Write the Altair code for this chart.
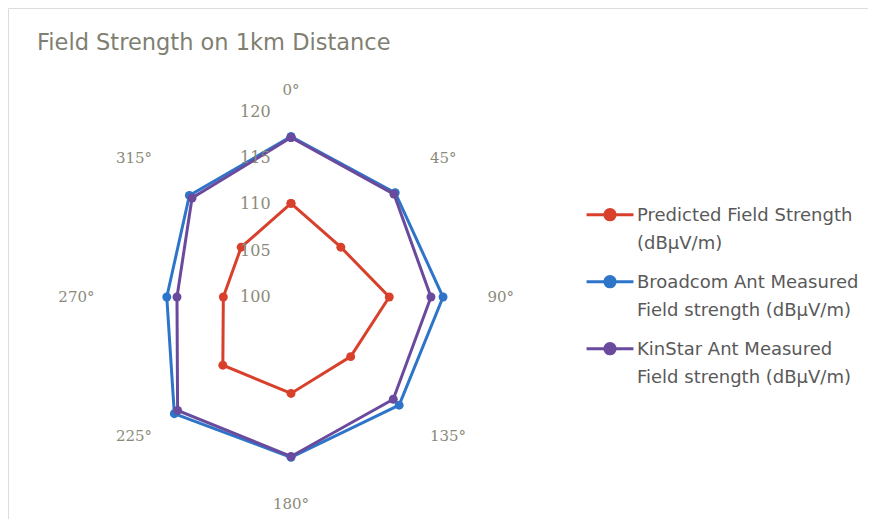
import altair as alt
import pandas as pd

ANGLES = [0, 45, 90, 135, 180, 225, 270, 315]
ANGLE_LABELS = ["0°", "45°", "90°", "135°", "180°", "225°", "270°", "315°"]
SERIES = [
    "Predicted Field Strength\n(dBµV/m)",
    "Broadcom Ant Measured\nField strength (dBµV/m)",
    "KinStar Ant Measured\nField strength (dBµV/m)",
]
PREDICTED = [110.1, 107.6, 110.6, 109.1, 110.4, 110.4, 107.3, 107.6]
BROADCOM = [117.3, 115.9, 116.4, 116.5, 117.3, 117.8, 113.4, 115.5]
KINSTAR = [117.2, 115.7, 115.1, 115.6, 117.2, 117.3, 112.3, 115.1]
RADIAL_TICKS = [100, 105, 110, 115, 120]
COLORS = ["#d9402b", "#2e75c9", "#6a4a9c"]

R_MIN = 100
PX_PER_UNIT = 9.27
W, H = 860, 511
CX, CY = 283, 289  # centre inside the view, px
XDOM = [-CX / PX_PER_UNIT, (W - CX) / PX_PER_UNIT]
YDOM = [-(H - CY) / PX_PER_UNIT, CY / PX_PER_UNIT]

rows = []
for name, vals in zip(SERIES, [PREDICTED, BROADCOM, KINSTAR]):
    for i in range(len(ANGLES) + 1):
        k = i % len(ANGLES)
        rows.append({"series": name, "angle": ANGLES[k], "value": vals[k], "order": i})
df = pd.DataFrame(rows)

xs = alt.Scale(domain=XDOM, nice=False, zero=False)
ys = alt.Scale(domain=YDOM, nice=False, zero=False)

SYM = "M-1,-0.27L1,-0.27M-0.22,-0.27A0.22,0.22,0,1,1,0.22,-0.27A0.22,0.22,0,1,1,-0.22,-0.27Z"

color = alt.Color(
    "series:N",
    scale=alt.Scale(domain=SERIES, range=COLORS),
    legend=alt.Legend(
        title=None,
        orient="none",
        legendX=577,
        legendY=188,
        labelExpr="split(datum.label, '\\n')",
        labelFont="DejaVu Sans",
        labelFontSize=18,
        labelColor="#595959",
        labelBaseline="alphabetic",
        labelLimit=400,
        symbolType=SYM,
        symbolSize=2200,
        symbolStrokeWidth=3,
        rowPadding=10,
        labelOffset=2,
    ),
)

base = alt.Chart(df).transform_calculate(
    r=f"datum.value - {R_MIN}",
    th="datum.angle * PI / 180",
).transform_calculate(
    x="datum.r * sin(datum.th)",
    y="datum.r * cos(datum.th)",
)

enc = dict(
    x=alt.X("x:Q", scale=xs, axis=None),
    y=alt.Y("y:Q", scale=ys, axis=None),
)

lines = base.mark_line(strokeWidth=3).encode(color=color, order="order:Q", **enc)
points = base.mark_point(filled=True, size=80, opacity=1).encode(color=color, **enc)

angle_df = pd.DataFrame({"angle": ANGLES, "label": ANGLE_LABELS})
angle_base = alt.Chart(angle_df).transform_calculate(
    th="datum.angle * PI / 180",
).transform_calculate(
    rr="abs(cos(datum.th)) > 0.99 ? 22.3 : 21.2",
    s="sin(datum.th)",
).transform_calculate(
    x="datum.rr * datum.s",
    y="datum.rr * cos(datum.th)",
)
txt_style = dict(font="DejaVu Serif", fontSize=15, color="#8a8a7a", baseline="middle")
angle_center = angle_base.transform_filter("abs(datum.s) < 0.01").mark_text(align="center", **txt_style).encode(text="label:N", **enc)
angle_left = angle_base.transform_filter("datum.s >= 0.01").mark_text(align="left", **txt_style).encode(text="label:N", **enc)
angle_right = angle_base.transform_filter("datum.s <= -0.01").mark_text(align="right", **txt_style).encode(text="label:N", **enc)

tick_df = pd.DataFrame({"tick": RADIAL_TICKS})
tick_text = alt.Chart(tick_df).transform_calculate(
    x="-2.2",
    y=f"datum.tick - {R_MIN}",
    label="datum.tick + ''",
).mark_text(font="DejaVu Serif", fontSize=16, color="#8a8a7a", baseline="middle", align="right").encode(
    text="label:N", **enc
)

chart = alt.layer(lines, points, angle_center, angle_left, angle_right, tick_text).properties(
    width=W,
    height=H,
    autosize="none",
    padding=0,
    title=alt.TitleParams(
        "Field Strength on 1km Distance",
        anchor="start",
        frame="group",
        orient="top",
        offset=0,
        dx=29,
        dy=64,
        baseline="alphabetic",
        font="DejaVu Sans",
        fontSize=22.5,
        fontWeight="normal",
        color="#7f7f72",
    ),
).configure_view(stroke="#cfcfcf", strokeWidth=2).configure(
    background="white",
    style={"guide-label": {"lineHeight": 28}},
)

chart.save("out.html", embed_options={"renderer": "svg", "actions": False})
